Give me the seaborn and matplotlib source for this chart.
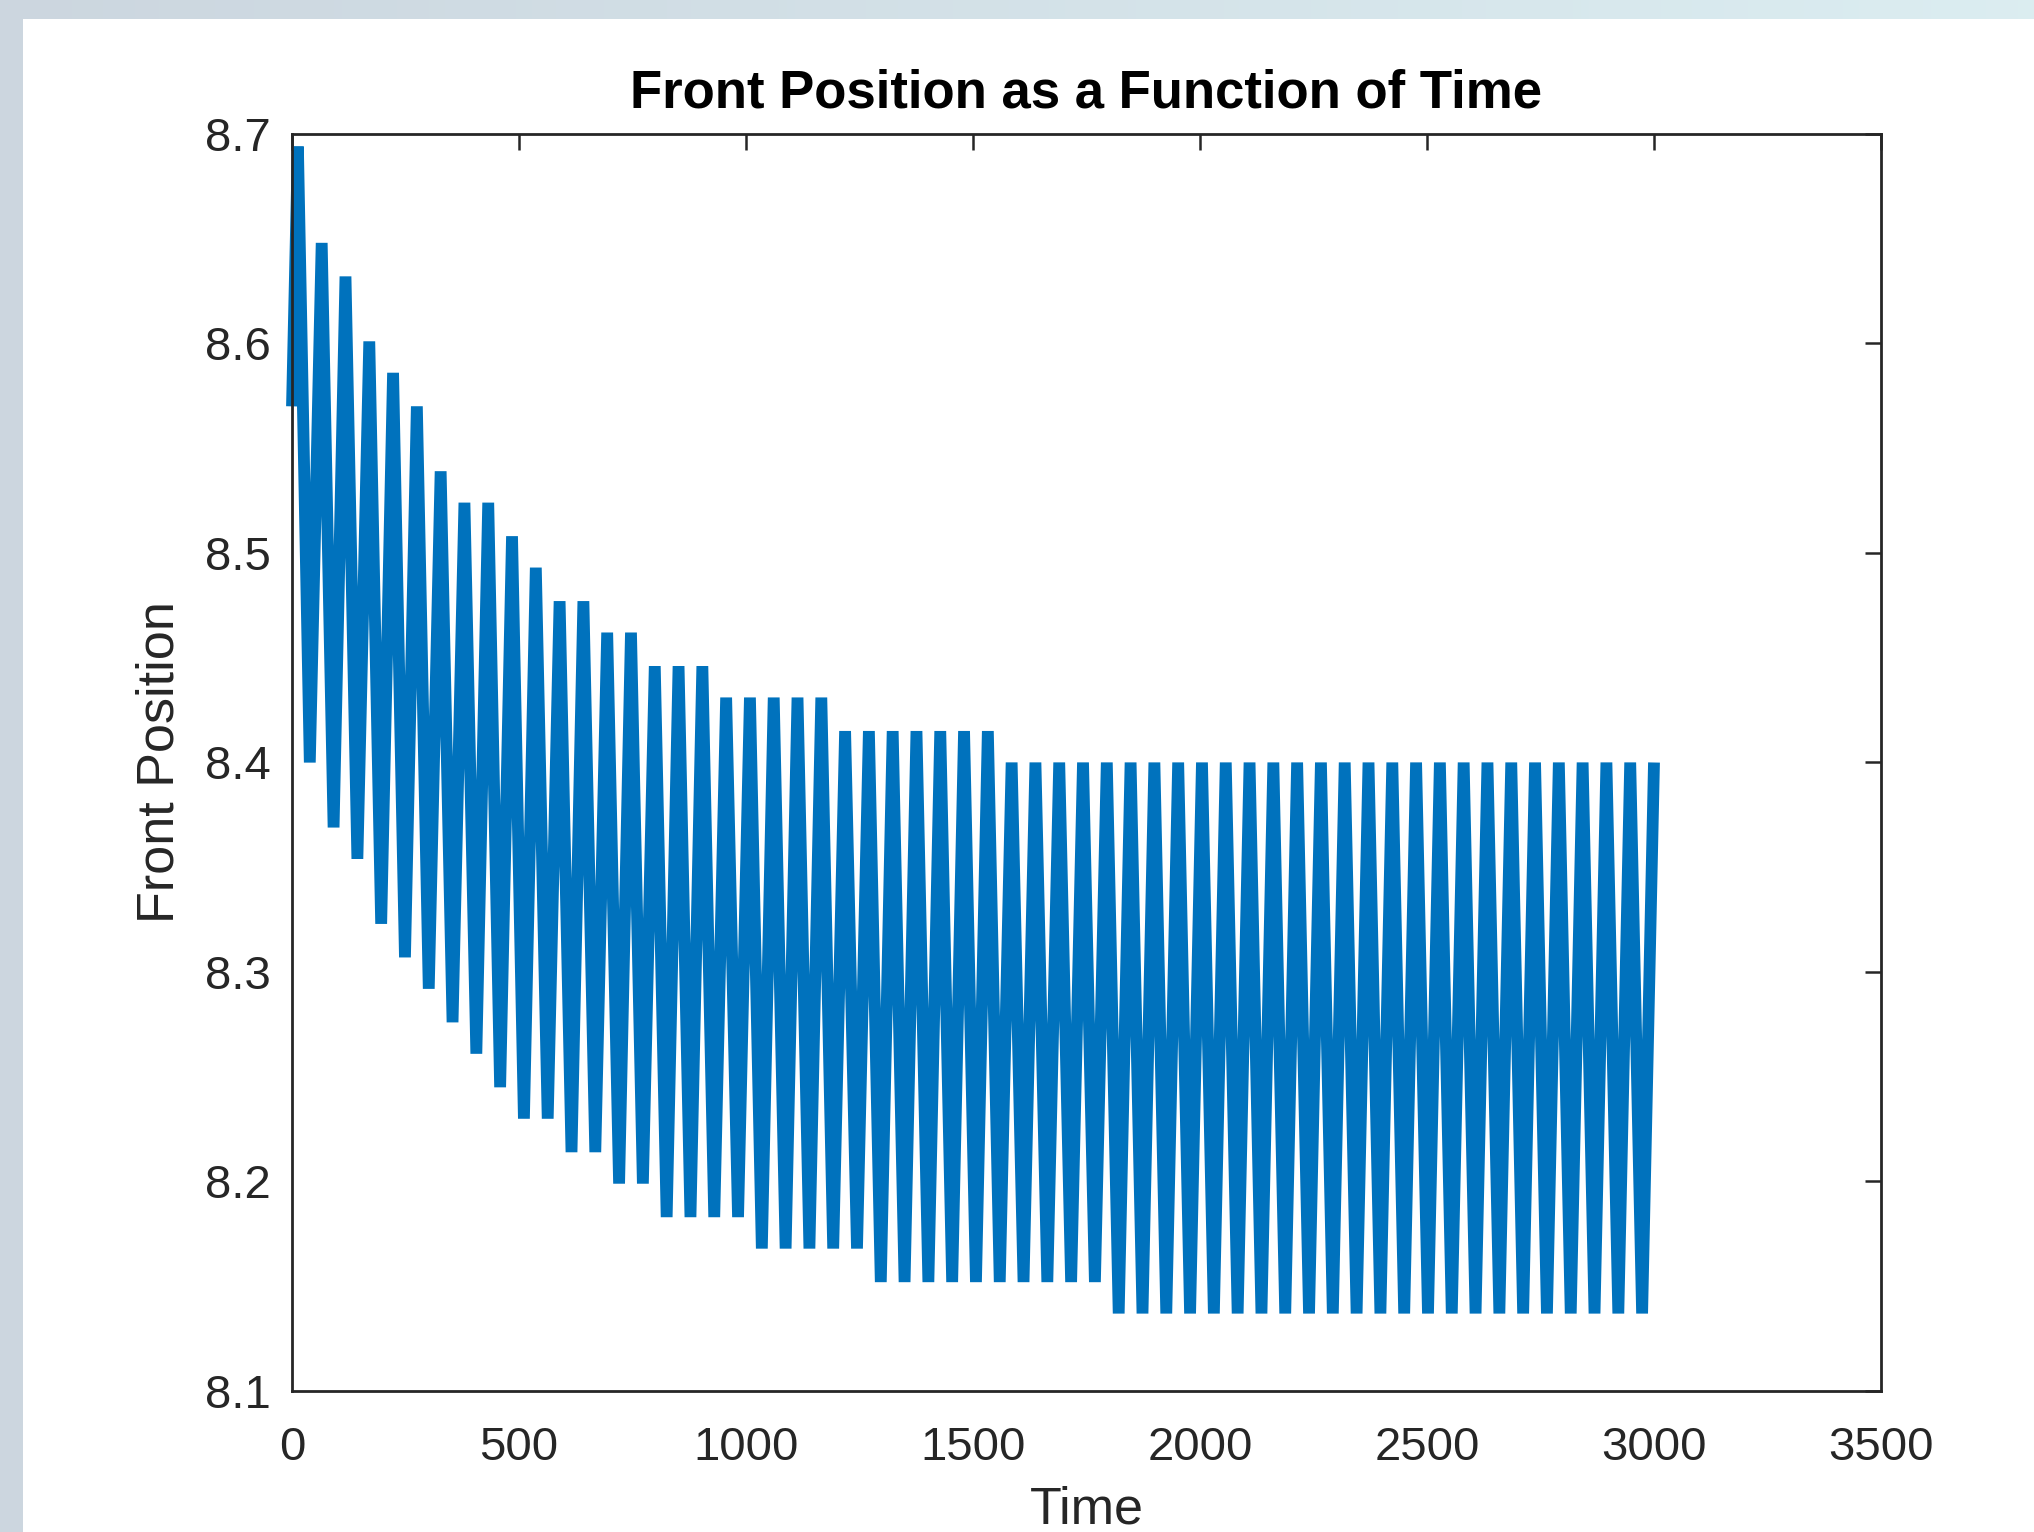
import numpy as np
import pandas as pd
import matplotlib
matplotlib.use("Agg")
import matplotlib.pyplot as plt
from matplotlib.patches import Rectangle
import seaborn as sns

# ---------------- data ----------------
start_time = 0.0
start_level = 8.570
first_extremum_time = 13.0
end_time = 3000.0

# successive maxima of the oscillation (one per cycle, 58 values)
peak_levels = [
    8.694, 8.648, 8.632, 8.601, 8.586, 8.570, 8.539, 8.524, 8.524, 8.508,
    8.493, 8.477, 8.477, 8.462, 8.462, 8.446, 8.446, 8.446,
    8.431, 8.431, 8.431, 8.431, 8.431,
    8.415, 8.415, 8.415, 8.415, 8.415, 8.415, 8.415,
    8.400, 8.400, 8.400, 8.400, 8.400, 8.400, 8.400, 8.400, 8.400, 8.400,
    8.400, 8.400, 8.400, 8.400, 8.400, 8.400, 8.400, 8.400, 8.400, 8.400,
    8.400, 8.400, 8.400, 8.400, 8.400, 8.400, 8.400, 8.400,
]

# successive minima of the oscillation (57 values)
trough_levels = [
    8.400, 8.369, 8.354, 8.323, 8.307, 8.292, 8.276, 8.261, 8.245, 8.230,
    8.230, 8.214, 8.214, 8.199, 8.199,
    8.183, 8.183, 8.183, 8.183,
    8.168, 8.168, 8.168, 8.168, 8.168,
    8.152, 8.152, 8.152, 8.152, 8.152, 8.152, 8.152, 8.152, 8.152, 8.152,
    8.137, 8.137, 8.137, 8.137, 8.137, 8.137, 8.137, 8.137, 8.137, 8.137,
    8.137, 8.137, 8.137, 8.137, 8.137, 8.137, 8.137, 8.137, 8.137, 8.137,
    8.137, 8.137, 8.137,
]

x_ticks = [0, 500, 1000, 1500, 2000, 2500, 3000, 3500]
x_tick_labels = ["0", "500", "1000", "1500", "2000", "2500", "3000", "3500"]
y_ticks = [8.1, 8.2, 8.3, 8.4, 8.5, 8.6, 8.7]
y_tick_labels = ["8.1", "8.2", "8.3", "8.4", "8.5", "8.6", "8.7"]

title_text = "Front Position as a Function of Time"
x_label = "Time"
y_label = "Front Position"

# ---------------- assemble series ----------------
levels = [start_level]
for i in range(len(trough_levels)):
    levels.append(peak_levels[i])
    levels.append(trough_levels[i])
levels.append(peak_levels[len(trough_levels)])
n_samples = len(levels) - 1
times = np.concatenate([[start_time],
                        np.linspace(first_extremum_time, end_time, n_samples)])
df = pd.DataFrame({"Time": times, "Front Position": levels})

# ---------------- style ----------------
sns.set_style("white")
plt.rcParams["font.family"] = ["Liberation Sans", "DejaVu Sans"]
txt = "#262626"

W, H = 2034, 1532
fig = plt.figure(figsize=(W / 100, H / 100), dpi=100)

# screenshot-like bluish background with white figure area
bg = fig.add_axes([0, 0, 1, 1], zorder=-10)
c_left = np.array([0.80, 0.84, 0.875])
c_right = np.array([0.86, 0.93, 0.945])
gx = np.linspace(0, 1, 256)[None, :, None]
grad = c_left[None, None, :] * (1 - gx) + c_right[None, None, :] * gx
grad = np.repeat(grad, 4, axis=0)
bg.imshow(grad, aspect="auto", extent=[0, 1, 0, 1])
bg.add_patch(Rectangle((23 / W, 0), 1 - 23 / W, 1 - 19 / H,
                       facecolor="white", edgecolor="none"))
bg.set_xlim(0, 1)
bg.set_ylim(0, 1)
bg.axis("off")

ax = fig.add_axes([292 / W, 1 - 1391 / H, (1881 - 292) / W, (1391 - 134) / H])
ax.set_facecolor("white")

sns.lineplot(data=df, x="Time", y="Front Position", ax=ax,
             color="#0072BD", linewidth=8.5, estimator=None, sort=False,
             legend=False)
for ln in ax.lines:
    ln.set_solid_joinstyle("miter")
    ln.set_solid_capstyle("butt")
    ln.set_clip_on(False)

ax.set_xlim(0, 3500)
ax.set_ylim(8.1, 8.7)
ax.set_xticks(x_ticks)
ax.set_xticklabels(x_tick_labels)
ax.set_yticks(y_ticks)
ax.set_yticklabels(y_tick_labels)

ax.tick_params(axis="both", direction="in", length=11.5, width=1.8,
               colors=txt, labelsize=34, top=True, right=True,
               labelcolor=txt)
ax.tick_params(axis="x", pad=25)
ax.tick_params(axis="y", pad=15)
for s in ax.spines.values():
    s.set_visible(True)
    s.set_color(txt)
    s.set_linewidth(2.0)

ax.set_title(title_text, fontsize=38, fontweight="bold", color="black", pad=19)
ax.set_xlabel(x_label, fontsize=37.5, color=txt, labelpad=11)
ax.set_ylabel(y_label, fontsize=37.5, color=txt, labelpad=15)

fig.savefig("out.png", dpi=100, facecolor=fig.get_facecolor())
